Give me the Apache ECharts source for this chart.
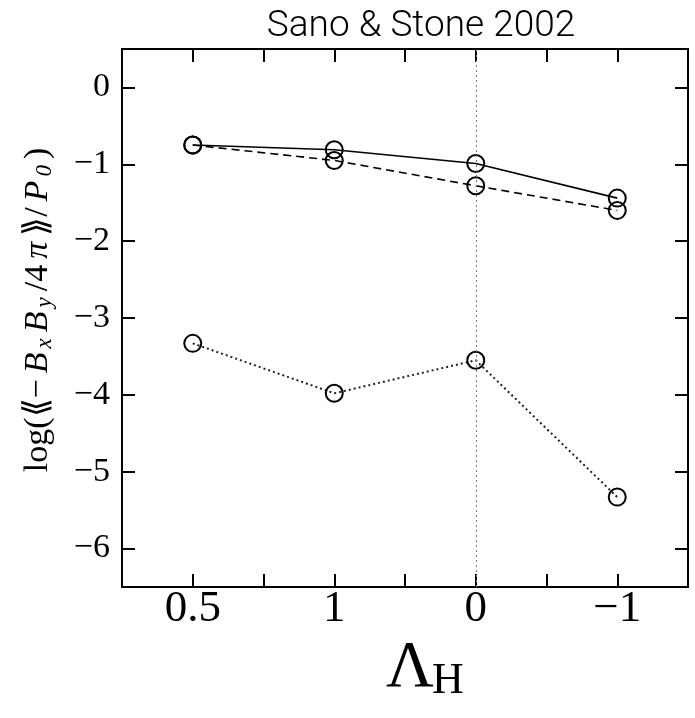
<!DOCTYPE html>
<html>
<head>
<meta charset="utf-8">
<script src="https://cdn.jsdelivr.net/npm/echarts@6/dist/echarts.min.js"></script>
<style>html,body{margin:0;padding:0;background:#fff}#c{width:695px;height:718px}</style>
</head>
<body>
<div id="c"></div>
<script>
const categories = ['0.5', '1', '0', '\u22121'];
const solidSeries = [-0.75, -0.81, -0.99, -1.44];
const dashedSeries = [-0.75, -0.95, -1.28, -1.60];
const dottedSeries = [-3.33, -3.98, -3.55, -5.33];
const yTicks = [0, -1, -2, -3, -4, -5, -6];
const markerCategory = '0';
const xAxisTitleMain = '\u039B';
const xAxisTitleSub = 'H';

const chart = echarts.init(document.getElementById('c'), null, {renderer: 'canvas'});
const toPairs = arr => arr.map((v, i) => [i, v]);
const serif = '"Liberation Serif", "DejaVu Serif", serif';
const catIndex = categories.indexOf(markerCategory);

function xLabel(v) {
  const i = Math.round(v * 2) / 2;
  if (Number.isInteger(i) && i >= 0 && i < categories.length) return categories[i];
  return '';
}
function yLabel(v) {
  if (v === 0) return '0';
  return v < 0 ? '\u2212' + Math.abs(v) : String(v);
}

const axLine = {show: true, onZero: false, lineStyle: {color: '#000', width: 2}};
const axTick = {show: true, inside: true, length: 13, lineStyle: {color: '#000', width: 2}};
const circle = {
  symbol: 'circle', symbolSize: 17,
  itemStyle: {color: 'transparent', borderColor: '#000', borderWidth: 2}
};
const nm = (extra) => Object.assign({fontFamily: serif, fontSize: 34, color: '#000', padding: [0, 3]}, extra || {});

chart.setOption({
  animation: false,
  title: {
    text: 'Sano & Stone 2002', left: 416, top: 3, textAlign: 'center',
    textStyle: {fontFamily: 'Roboto, "Liberation Sans", sans-serif', fontWeight: 300, fontSize: 37, color: '#000'}
  },
  grid: {left: 122, right: 7, top: 49, bottom: 131, outerBoundsMode: 'none', containLabel: false},
  graphic: [{
    type: 'text', left: 386, top: 636,
    style: {text: xAxisTitleMain, font: '66px "Liberation Serif", serif', fill: '#000'}
  }, {
    type: 'text', left: 432, top: 659,
    style: {text: xAxisTitleSub, font: '44px "Liberation Serif", serif', fill: '#000'}
  }],
  xAxis: [{
    type: 'value', min: -0.5, max: 3.5, interval: 0.5, position: 'bottom',
    axisLine: axLine, axisTick: axTick,
    splitLine: {show: false},
    axisLabel: {formatter: xLabel, fontFamily: serif, fontSize: 45, color: '#000', margin: 0}
  }, {
    type: 'value', min: -0.5, max: 3.5, interval: 0.5, position: 'top',
    axisLine: axLine, axisTick: axTick,
    splitLine: {show: false},
    axisLabel: {show: false}
  }],
  yAxis: [{
    type: 'value', min: -6.5, max: 0.5, interval: 1, position: 'left',
    axisLine: axLine,
    axisTick: Object.assign({customValues: yTicks}, axTick),
    splitLine: {show: false},
    axisLabel: {customValues: yTicks, formatter: yLabel, fontFamily: serif, fontSize: 34, color: '#000', margin: 12},
    name: '{t|log(\u27EA\u2212}{i|B}{s|x}{i|B}{s|y}{t|/4}{i|\u03C0}{t|\u27EB/}{i|P}{s|0}{t|)}',
    nameLocation: 'middle', nameRotate: 90, nameGap: 66, nameMoveOverlap: false,
    nameTextStyle: {
      padding: [0, 0, 0, 16],
      rich: {
        t: nm(),
        i: nm({fontStyle: 'italic'}),
        s: nm({fontStyle: 'italic', fontSize: 23, padding: [12, 3, 0, 1]})
      }
    }
  }, {
    type: 'value', min: -6.5, max: 0.5, interval: 1, position: 'right',
    axisLine: axLine,
    axisTick: Object.assign({customValues: yTicks}, axTick),
    splitLine: {show: false},
    axisLabel: {show: false}
  }],
  series: [{
    type: 'line', data: toPairs(solidSeries), ...circle,
    lineStyle: {color: '#000', width: 1.6, type: 'solid'},
    markLine: {
      silent: true, symbol: 'none', label: {show: false},
      lineStyle: {color: '#777', width: 1, type: [2, 3]},
      data: [{xAxis: catIndex}]
    }
  }, {
    type: 'line', data: toPairs(dashedSeries), ...circle,
    lineStyle: {color: '#000', width: 1.6, type: [8, 5]}
  }, {
    type: 'line', data: toPairs(dottedSeries), ...circle,
    lineStyle: {color: '#222', width: 2, type: [2, 3]}
  }]
});
</script>
</body>
</html>
